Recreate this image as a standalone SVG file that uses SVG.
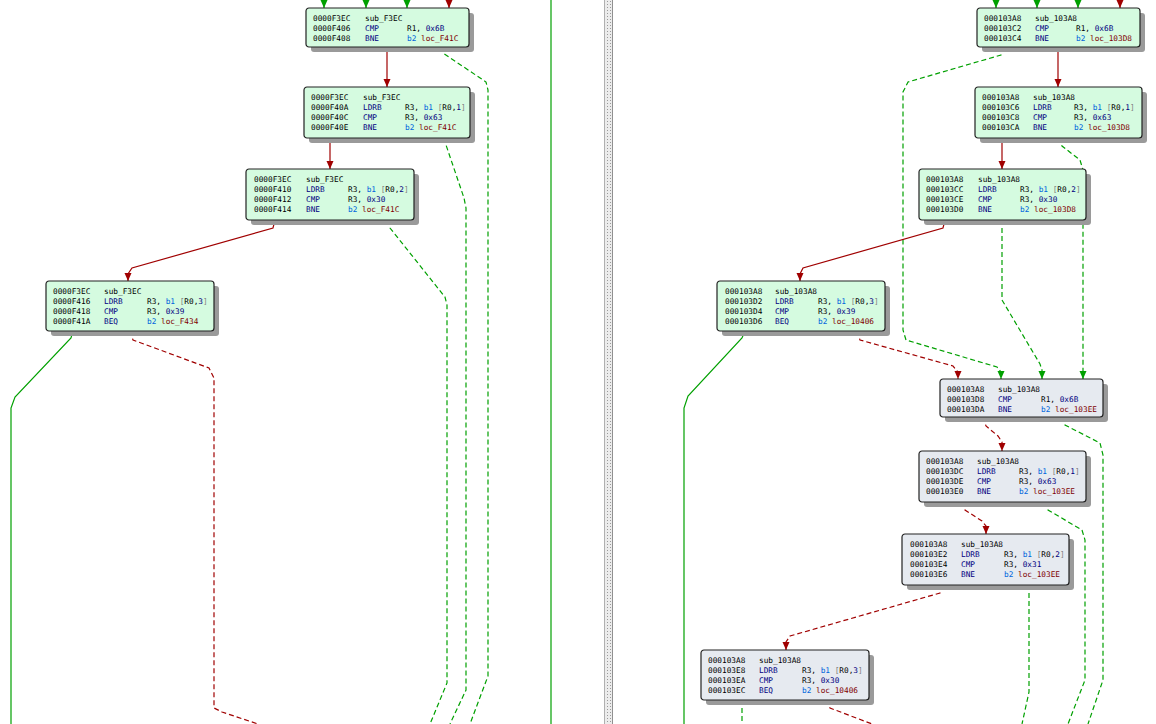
<svg xmlns="http://www.w3.org/2000/svg" width="1156" height="724" viewBox="0 0 1156 724">
<style>
.t{font-family:"DejaVu Sans Mono","Liberation Mono",monospace;font-size:7.75px;fill:#000}
.m{fill:#000080}.n{fill:#000080}.b{fill:#0066dd}.l{fill:#800000}.g{fill:#808080}
.sh{fill:#9a9a9a}
.bx{stroke:#222;stroke-width:1.2}
.gr{fill:#d5fbe0}.gy{fill:#e6eaf0}
.er{fill:none;stroke:#a00000;stroke-width:1.2}
.eg{fill:none;stroke:#00a000;stroke-width:1.2}
.d{stroke-dasharray:5,3}
</style>
<defs>
<marker id="ar" markerUnits="userSpaceOnUse" markerWidth="8" markerHeight="8" refX="8" refY="3.5" orient="auto"><path d="M0,0 L8,3.5 L0,7 z" fill="#a00000"/></marker>
<marker id="ag" markerUnits="userSpaceOnUse" markerWidth="8" markerHeight="8" refX="8" refY="3.5" orient="auto"><path d="M0,0 L8,3.5 L0,7 z" fill="#00a000"/></marker>
<pattern id="dots" width="3" height="3" patternUnits="userSpaceOnUse"><rect width="3" height="3" fill="#ececec"/><rect x="1" y="1" width="1" height="1" fill="#9a9a9a"/></pattern>
</defs>
<rect width="1156" height="724" fill="#fff"/>
<rect x="604" y="0" width="8" height="724" fill="url(#dots)"/>
<line x1="604.5" y1="0" x2="604.5" y2="724" stroke="#b0b0b0"/>
<line x1="612.5" y1="0" x2="612.5" y2="724" stroke="#909090"/>

<g id="connectors">
<path class="eg" d="M324,-2 V8" marker-end="url(#ag)"/>
<path class="eg" d="M366,-2 V8" marker-end="url(#ag)"/>
<path class="eg" d="M407,-2 V8" marker-end="url(#ag)"/>
<path class="er" d="M449,-2 V8" marker-end="url(#ar)"/>
<path class="er" d="M387,47 V87" marker-end="url(#ar)"/>
<path class="eg d" d="M441,47 L443,53 L486,82 L488,90 V676 L470,724"/>
<path class="er" d="M330,138 V169" marker-end="url(#ar)"/>
<path class="eg d" d="M444,138 L446,145 L464,198 L466,208 V690 L450,724"/>
<path class="er" d="M275,220 L273,228 L132,268 L128,274 V281" marker-end="url(#ar)"/>
<path class="eg d" d="M388,220 L390,228 L445,297 L447,305 V683 L430,724"/>
<path class="eg" d="M73,331 L71,338 L15,397 L11,408 V724"/>
<path class="er d" d="M130,331 L133,340 L209,368 L214,378 V708 L222,712 L258,724"/>
<path class="eg" d="M551,0 V724"/>

<path class="eg" d="M996,-2 V8" marker-end="url(#ag)"/>
<path class="eg" d="M1037,-2 V8" marker-end="url(#ag)"/>
<path class="eg" d="M1078,-2 V8" marker-end="url(#ag)"/>
<path class="er" d="M1120,-2 V8" marker-end="url(#ar)"/>
<path class="er" d="M1058,47 V87" marker-end="url(#ar)"/>
<path class="eg d" d="M1004,47 L1001,55 L908,82 L903,92 V330 L906,340 L997,367 L1001,372 V379" marker-end="url(#ag)"/>
<path class="er" d="M1002,138 V169" marker-end="url(#ar)"/>
<path class="eg d" d="M1058,138 L1062,146 L1080,160 L1083,170 V379" marker-end="url(#ag)"/>
<path class="eg d" d="M1002,220 V300 L1040,364 L1042,370 V379" marker-end="url(#ag)"/>
<path class="er" d="M945,220 L943,228 L803,268 L800,274 V281" marker-end="url(#ar)"/>
<path class="eg" d="M745,331 L742,338 L688,396 L684,408 V724"/>
<path class="er d" d="M857,331 L860,340 L953,366 L958,372 V379" marker-end="url(#ar)"/>
<path class="er d" d="M983,417 L986,426 L998,436 L1002,442 V451" marker-end="url(#ar)"/>
<path class="eg d" d="M1062,417 L1065,425 L1100,443 L1103,455 V680 L1088,724"/>
<path class="er d" d="M962,502 L965,510 L982,521 L986,526 V534" marker-end="url(#ar)"/>
<path class="eg d" d="M1045,502 L1048,510 L1082,530 L1085,540 V680 L1068,724"/>
<path class="er d" d="M943,585 L940,593 L790,636 L786,642 V650" marker-end="url(#ar)"/>
<path class="eg d" d="M1029,585 V692 L1022,724"/>
<path class="eg d" d="M742,700 V724"/>
<path class="er d" d="M826,700 L830,708 L872,724"/>
</g>

<g id="N1" transform="translate(306,8)">
<rect class="sh" x="5" y="5" width="163" height="39" rx="3"/>
<rect class="bx gr" x="0" y="0" width="163" height="39" rx="3"/>
<text class="t" y="13"><tspan x="7">0000F3EC</tspan><tspan x="59">sub_F3EC</tspan></text>
<text class="t" y="23"><tspan x="7">0000F406</tspan><tspan x="59" class="m">CMP</tspan><tspan x="101">R1, </tspan><tspan class="n">0x6B</tspan></text>
<text class="t" y="33"><tspan x="7">0000F408</tspan><tspan x="59" class="m">BNE</tspan><tspan x="101" class="b">b2</tspan><tspan> </tspan><tspan class="l">loc_F41C</tspan></text>
</g>

<g id="N2" transform="translate(304,87)">
<rect class="sh" x="5" y="5" width="166" height="51" rx="3"/>
<rect class="bx gr" x="0" y="0" width="166" height="51" rx="3"/>
<text class="t" y="13"><tspan x="7">0000F3EC</tspan><tspan x="59">sub_F3EC</tspan></text>
<text class="t" y="23"><tspan x="7">0000F40A</tspan><tspan x="59" class="m">LDRB</tspan><tspan x="101">R3, </tspan><tspan class="b">b1</tspan><tspan> </tspan><tspan class="g">[</tspan><tspan>R0,</tspan><tspan class="n">1</tspan><tspan class="g">]</tspan></text>
<text class="t" y="33"><tspan x="7">0000F40C</tspan><tspan x="59" class="m">CMP</tspan><tspan x="101">R3, </tspan><tspan class="n">0x63</tspan></text>
<text class="t" y="43"><tspan x="7">0000F40E</tspan><tspan x="59" class="m">BNE</tspan><tspan x="101" class="b">b2</tspan><tspan> </tspan><tspan class="l">loc_F41C</tspan></text>
</g>

<g id="N3" transform="translate(246,169)">
<rect class="sh" x="5" y="5" width="168" height="51" rx="3"/>
<rect class="bx gr" x="0" y="0" width="168" height="51" rx="3"/>
<text class="t" y="13"><tspan x="8">0000F3EC</tspan><tspan x="60">sub_F3EC</tspan></text>
<text class="t" y="23"><tspan x="8">0000F410</tspan><tspan x="60" class="m">LDRB</tspan><tspan x="102">R3, </tspan><tspan class="b">b1</tspan><tspan> </tspan><tspan class="g">[</tspan><tspan>R0,</tspan><tspan class="n">2</tspan><tspan class="g">]</tspan></text>
<text class="t" y="33"><tspan x="8">0000F412</tspan><tspan x="60" class="m">CMP</tspan><tspan x="102">R3, </tspan><tspan class="n">0x30</tspan></text>
<text class="t" y="43"><tspan x="8">0000F414</tspan><tspan x="60" class="m">BNE</tspan><tspan x="102" class="b">b2</tspan><tspan> </tspan><tspan class="l">loc_F41C</tspan></text>
</g>

<g id="N4" transform="translate(46,281)">
<rect class="sh" x="5" y="5" width="168" height="50" rx="3"/>
<rect class="bx gr" x="0" y="0" width="168" height="50" rx="3"/>
<text class="t" y="13"><tspan x="7">0000F3EC</tspan><tspan x="58">sub_F3EC</tspan></text>
<text class="t" y="23"><tspan x="7">0000F416</tspan><tspan x="58" class="m">LDRB</tspan><tspan x="101">R3, </tspan><tspan class="b">b1</tspan><tspan> </tspan><tspan class="g">[</tspan><tspan>R0,</tspan><tspan class="n">3</tspan><tspan class="g">]</tspan></text>
<text class="t" y="33"><tspan x="7">0000F418</tspan><tspan x="58" class="m">CMP</tspan><tspan x="101">R3, </tspan><tspan class="n">0x39</tspan></text>
<text class="t" y="43"><tspan x="7">0000F41A</tspan><tspan x="58" class="m">BEQ</tspan><tspan x="101" class="b">b2</tspan><tspan> </tspan><tspan class="l">loc_F434</tspan></text>
</g>

<g id="R1" transform="translate(977,8)">
<rect class="sh" x="5" y="5" width="163" height="39" rx="3"/>
<rect class="bx gr" x="0" y="0" width="163" height="39" rx="3"/>
<text class="t" y="13"><tspan x="7">000103A8</tspan><tspan x="58">sub_103A8</tspan></text>
<text class="t" y="23"><tspan x="7">000103C2</tspan><tspan x="58" class="m">CMP</tspan><tspan x="99">R1, </tspan><tspan class="n">0x6B</tspan></text>
<text class="t" y="33"><tspan x="7">000103C4</tspan><tspan x="58" class="m">BNE</tspan><tspan x="99" class="b">b2</tspan><tspan> </tspan><tspan class="l">loc_103D8</tspan></text>
</g>

<g id="R2" transform="translate(975,87)">
<rect class="sh" x="5" y="5" width="167" height="51" rx="3"/>
<rect class="bx gr" x="0" y="0" width="167" height="51" rx="3"/>
<text class="t" y="13"><tspan x="7">000103A8</tspan><tspan x="58">sub_103A8</tspan></text>
<text class="t" y="23"><tspan x="7">000103C6</tspan><tspan x="58" class="m">LDRB</tspan><tspan x="99">R3, </tspan><tspan class="b">b1</tspan><tspan> </tspan><tspan class="g">[</tspan><tspan>R0,</tspan><tspan class="n">1</tspan><tspan class="g">]</tspan></text>
<text class="t" y="33"><tspan x="7">000103C8</tspan><tspan x="58" class="m">CMP</tspan><tspan x="99">R3, </tspan><tspan class="n">0x63</tspan></text>
<text class="t" y="43"><tspan x="7">000103CA</tspan><tspan x="58" class="m">BNE</tspan><tspan x="99" class="b">b2</tspan><tspan> </tspan><tspan class="l">loc_103D8</tspan></text>
</g>

<g id="R3" transform="translate(919,169)">
<rect class="sh" x="5" y="5" width="167" height="51" rx="3"/>
<rect class="bx gr" x="0" y="0" width="167" height="51" rx="3"/>
<text class="t" y="13"><tspan x="7">000103A8</tspan><tspan x="59">sub_103A8</tspan></text>
<text class="t" y="23"><tspan x="7">000103CC</tspan><tspan x="59" class="m">LDRB</tspan><tspan x="101">R3, </tspan><tspan class="b">b1</tspan><tspan> </tspan><tspan class="g">[</tspan><tspan>R0,</tspan><tspan class="n">2</tspan><tspan class="g">]</tspan></text>
<text class="t" y="33"><tspan x="7">000103CE</tspan><tspan x="59" class="m">CMP</tspan><tspan x="101">R3, </tspan><tspan class="n">0x30</tspan></text>
<text class="t" y="43"><tspan x="7">000103D0</tspan><tspan x="59" class="m">BNE</tspan><tspan x="101" class="b">b2</tspan><tspan> </tspan><tspan class="l">loc_103D8</tspan></text>
</g>

<g id="R4" transform="translate(717,281)">
<rect class="sh" x="5" y="5" width="168" height="50" rx="3"/>
<rect class="bx gr" x="0" y="0" width="168" height="50" rx="3"/>
<text class="t" y="13"><tspan x="8">000103A8</tspan><tspan x="58">sub_103A8</tspan></text>
<text class="t" y="23"><tspan x="8">000103D2</tspan><tspan x="58" class="m">LDRB</tspan><tspan x="101">R3, </tspan><tspan class="b">b1</tspan><tspan> </tspan><tspan class="g">[</tspan><tspan>R0,</tspan><tspan class="n">3</tspan><tspan class="g">]</tspan></text>
<text class="t" y="33"><tspan x="8">000103D4</tspan><tspan x="58" class="m">CMP</tspan><tspan x="101">R3, </tspan><tspan class="n">0x39</tspan></text>
<text class="t" y="43"><tspan x="8">000103D6</tspan><tspan x="58" class="m">BEQ</tspan><tspan x="101" class="b">b2</tspan><tspan> </tspan><tspan class="l">loc_10406</tspan></text>
</g>

<g id="R5" transform="translate(940,379)">
<rect class="sh" x="5" y="5" width="163" height="38" rx="3"/>
<rect class="bx gy" x="0" y="0" width="163" height="38" rx="3"/>
<text class="t" y="13"><tspan x="7">000103A8</tspan><tspan x="58">sub_103A8</tspan></text>
<text class="t" y="23"><tspan x="7">000103D8</tspan><tspan x="58" class="m">CMP</tspan><tspan x="101">R1, </tspan><tspan class="n">0x6B</tspan></text>
<text class="t" y="33"><tspan x="7">000103DA</tspan><tspan x="58" class="m">BNE</tspan><tspan x="101" class="b">b2</tspan><tspan> </tspan><tspan class="l">loc_103EE</tspan></text>
</g>

<g id="R6" transform="translate(919,451)">
<rect class="sh" x="5" y="5" width="167" height="51" rx="3"/>
<rect class="bx gy" x="0" y="0" width="167" height="51" rx="3"/>
<text class="t" y="13"><tspan x="7">000103A8</tspan><tspan x="58">sub_103A8</tspan></text>
<text class="t" y="23"><tspan x="7">000103DC</tspan><tspan x="58" class="m">LDRB</tspan><tspan x="100">R3, </tspan><tspan class="b">b1</tspan><tspan> </tspan><tspan class="g">[</tspan><tspan>R0,</tspan><tspan class="n">1</tspan><tspan class="g">]</tspan></text>
<text class="t" y="33"><tspan x="7">000103DE</tspan><tspan x="58" class="m">CMP</tspan><tspan x="100">R3, </tspan><tspan class="n">0x63</tspan></text>
<text class="t" y="43"><tspan x="7">000103E0</tspan><tspan x="58" class="m">BNE</tspan><tspan x="100" class="b">b2</tspan><tspan> </tspan><tspan class="l">loc_103EE</tspan></text>
</g>

<g id="R7" transform="translate(902,534)">
<rect class="sh" x="5" y="5" width="167" height="51" rx="3"/>
<rect class="bx gy" x="0" y="0" width="167" height="51" rx="3"/>
<text class="t" y="13"><tspan x="8">000103A8</tspan><tspan x="59">sub_103A8</tspan></text>
<text class="t" y="23"><tspan x="8">000103E2</tspan><tspan x="59" class="m">LDRB</tspan><tspan x="102">R3, </tspan><tspan class="b">b1</tspan><tspan> </tspan><tspan class="g">[</tspan><tspan>R0,</tspan><tspan class="n">2</tspan><tspan class="g">]</tspan></text>
<text class="t" y="33"><tspan x="8">000103E4</tspan><tspan x="59" class="m">CMP</tspan><tspan x="102">R3, </tspan><tspan class="n">0x31</tspan></text>
<text class="t" y="43"><tspan x="8">000103E6</tspan><tspan x="59" class="m">BNE</tspan><tspan x="102" class="b">b2</tspan><tspan> </tspan><tspan class="l">loc_103EE</tspan></text>
</g>

<g id="R8" transform="translate(701,650)">
<rect class="sh" x="5" y="5" width="168" height="50" rx="3"/>
<rect class="bx gy" x="0" y="0" width="168" height="50" rx="3"/>
<text class="t" y="13"><tspan x="7">000103A8</tspan><tspan x="58">sub_103A8</tspan></text>
<text class="t" y="23"><tspan x="7">000103E8</tspan><tspan x="58" class="m">LDRB</tspan><tspan x="101">R3, </tspan><tspan class="b">b1</tspan><tspan> </tspan><tspan class="g">[</tspan><tspan>R0,</tspan><tspan class="n">3</tspan><tspan class="g">]</tspan></text>
<text class="t" y="33"><tspan x="7">000103EA</tspan><tspan x="58" class="m">CMP</tspan><tspan x="101">R3, </tspan><tspan class="n">0x30</tspan></text>
<text class="t" y="43"><tspan x="7">000103EC</tspan><tspan x="58" class="m">BEQ</tspan><tspan x="101" class="b">b2</tspan><tspan> </tspan><tspan class="l">loc_10406</tspan></text>
</g>
</svg>
